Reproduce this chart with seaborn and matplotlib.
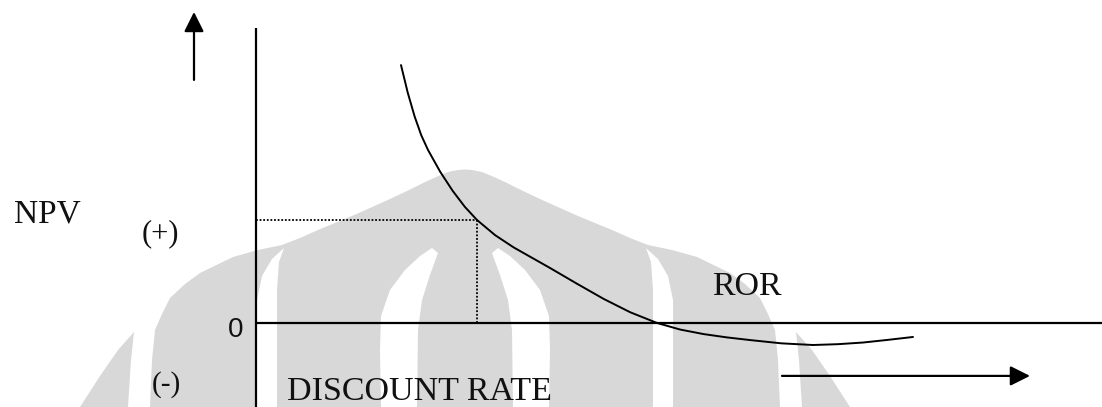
import matplotlib
matplotlib.use("Agg")
import matplotlib.pyplot as plt
from matplotlib.patches import Polygon
import pandas as pd
import seaborn as sns

# NPV profile: discount rate (%) against net present value
rate = [7.25, 7.59, 7.93, 8.26, 8.6, 9.21, 9.83, 10.44, 11.05, 11.96, 12.88,
        13.79, 14.7, 16.04, 17.38, 18.71, 20.05, 21.21, 22.38, 23.54, 24.7,
        26.28, 27.85, 29.1, 30.35, 31.6, 32.85]
npv = [125.2, 111.7, 100.3, 91.2, 84.0, 73.4, 64.2, 56.4, 50.0, 42.6, 36.7,
       31.7, 26.7, 19.1, 11.7, 5.2, 0.0, -3.2, -5.4, -7.0, -8.3,
       -9.9, -10.7, -10.3, -9.5, -8.2, -6.8]

# highlighted point on the curve
mark_rate = 11.05
mark_npv = 50.0

# axis extents and direction arrows (data units)
x_range = (-12.8, 42.3)
y_range = (-40.8, 156.8)
y_axis_top = 143.2
up_arrow_x = -3.1
up_arrow_y = (118.0, 151.0)
right_arrow_y = -25.7
right_arrow_x = (26.3, 38.7)

sns.set_theme(style="white")
plt.rcParams["font.family"] = ["Liberation Serif", "DejaVu Serif"]

fig = plt.figure(figsize=(11.02, 4.07), dpi=100)
fig.patch.set_facecolor("white")

# light grey emblem behind the diagram (pixel space)
bg = fig.add_axes([0, 0, 1, 1], zorder=0)
bg.set_xlim(0, 1102)
bg.set_ylim(407, 0)
bg.axis("off")
grey = "#d8d8d8"
cx2 = 930  # mirror: x -> cx2 - x


def mirror(pts):
    return [(cx2 - x, y) for x, y in pts]


outer_left = [(150, 407), (152, 360), (155, 330), (162, 314), (170, 298),
              (185, 284), (200, 273), (233, 257), (258, 250), (282, 245),
              (300, 238), (318, 230), (335, 223), (352, 216), (370, 208),
              (390, 199), (407, 191), (423, 183), (436, 177), (448, 172),
              (458, 170), (465, 169.5)]
outer = outer_left + mirror(outer_left[::-1])
bg.add_patch(Polygon(outer, closed=True, fc=grey, ec="none"))

gap_left = [(284, 248), (279, 262), (277, 290), (277, 407), (257, 407),
            (257, 300), (262, 276), (272, 259)]
inner_left = [(432, 248), (438, 253), (430, 275), (422, 300), (418, 330),
              (417, 407), (381, 407), (380, 350), (381, 316), (390, 290),
              (405, 270), (420, 256)]
for pts in (gap_left, inner_left):
    bg.add_patch(Polygon(pts, closed=True, fc="white", ec="none"))
    bg.add_patch(Polygon(mirror(pts), closed=True, fc="white", ec="none"))

tip_left = [(80, 407), (100, 376), (118, 350), (134, 332), (131, 360),
            (128, 407)]
bg.add_patch(Polygon(tip_left, closed=True, fc=grey, ec="none"))
bg.add_patch(Polygon(mirror(tip_left), closed=True, fc=grey, ec="none"))

# diagram axes
ax = fig.add_axes([0, 0, 1, 1], zorder=1)
ax.set_facecolor("none")
ax.set_xlim(*x_range)
ax.set_ylim(*y_range)
ax.axis("off")

df = pd.DataFrame({"rate": rate, "npv": npv})
sns.lineplot(data=df, x="rate", y="npv", ax=ax, color="black", lw=1.4,
             sort=False, estimator=None)

# coordinate axes
ax.plot([0, 0], [y_axis_top, y_range[0]], color="black", lw=1.6,
        solid_capstyle="butt")
ax.plot([0, x_range[1]], [0, 0], color="black", lw=1.6,
        solid_capstyle="butt")

# dotted guides to the marked point
ax.plot([0, mark_rate], [mark_npv, mark_npv], color="black", lw=1.3,
        linestyle=(0, (1, 1)))
ax.plot([mark_rate, mark_rate], [mark_npv, 0], color="black", lw=1.3,
        linestyle=(0, (1, 1)))

arrow_kw = dict(arrowstyle="-|>,head_length=1.2,head_width=0.6",
                mutation_scale=10, lw=1.6, color="black",
                shrinkA=0, shrinkB=0)
ax.annotate("", xy=(up_arrow_x, up_arrow_y[1]),
            xytext=(up_arrow_x, up_arrow_y[0]), arrowprops=arrow_kw)
ax.annotate("", xy=(right_arrow_x[1], right_arrow_y),
            xytext=(right_arrow_x[0], right_arrow_y), arrowprops=arrow_kw)

# labels
txt = dict(color="#111111", va="baseline", ha="center")
ax.text(-10.45, 49.0, "NPV", fontsize=24, **txt)
ax.text(-4.8, 39.5, "(+)", fontsize=22, **txt)
ax.text(-4.5, -33.5, "(-)", fontsize=21, **txt)
ax.text(-1.03, -6.8, "0", fontsize=20,
        family=["Liberation Sans", "DejaVu Sans"], **txt)
ax.text(8.15, -37.4, "DISCOUNT RATE", fontsize=24.5, **txt)
ax.text(24.55, 13.6, "ROR", fontsize=24.5, **txt)

fig.savefig("out.png", dpi=100, facecolor="white")
